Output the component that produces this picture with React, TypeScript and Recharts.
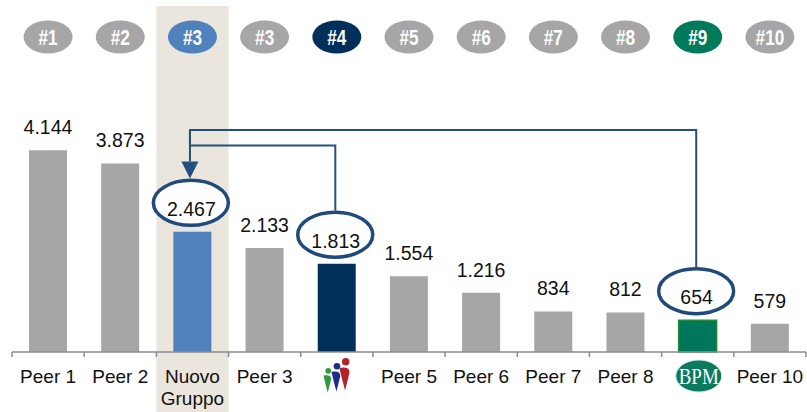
import React from 'react';
import { BarChart, Bar, XAxis, YAxis, ReferenceArea, ReferenceLine, LabelList, Cell } from 'recharts';

// ---- data ----
const categories = ['Peer 1', 'Peer 2', 'Nuovo Gruppo', 'Peer 3', 'Banco Popolare', 'Peer 5', 'Peer 6', 'Peer 7', 'Peer 8', 'BPM', 'Peer 10'];
const values = [4144, 3873, 2467, 2133, 1813, 1554, 1216, 834, 812, 654, 579];
const ranks = ['#1', '#2', '#3', '#3', '#4', '#5', '#6', '#7', '#8', '#9', '#10'];
const circled = ['Nuovo Gruppo', 'Banco Popolare', 'BPM'];
const shaded = 'Nuovo Gruppo';
const links = [
  { from: 'BPM', to: 'Nuovo Gruppo', arrow: true },
  { from: 'Banco Popolare', to: 'Nuovo Gruppo', arrow: false },
];

// ---- styles ----
const GRAY = '#a6a6a6';
const COLOR_BY_CAT: Record<string, string> = {
  'Nuovo Gruppo': '#4f81bd',
  'Banco Popolare': '#00305a',
  BPM: '#00765a',
};
const BADGE_COLOR_BY_CAT: Record<string, string> = {
  'Nuovo Gruppo': '#4f81bd',
  'Banco Popolare': '#00305a',
  BPM: '#007a5a',
};
const LINK_COLOR = '#24507f';
const ELLIPSE_COLOR = '#1f4a7a';
const SHADE = '#eae6dd';
const FONT = '"Liberation Sans", Arial, sans-serif';
const LINK_LEVELS = [130, 145.5];

const data = categories.map((name, i) => ({ name, value: values[i] }));

const fmt = (v: number) =>
  v >= 1000 ? `${Math.floor(v / 1000)}.${String(v % 1000).padStart(3, '0')}` : String(v);

// ellipse geometry relative to bar top
const ELL_DY = 29;
const ELL_RX = 37.5;
const ELL_RY = 22.5;
const ELL_SW = 3.5;
const ellipseOf = (cx: number, top: number) => ({
  cx: cx - 1.5,
  cy: top - ELL_DY,
  rx: ELL_RX,
  ry: ELL_RY,
  outerTop: top - ELL_DY - ELL_RY - ELL_SW / 2,
});

const ValueLabel = (props: any) => {
  const vb = props.viewBox && props.viewBox.width !== undefined ? props.viewBox : props;
  const x = Number(vb.x);
  const y = Number(vb.y);
  const w = Number(vb.width);
  const idx = props.index;
  const name = categories[idx];
  const cx = x + w / 2;
  const isCircled = circled.includes(name);
  const e = ellipseOf(cx, y);
  return (
    <g>
      {isCircled && (
        <ellipse cx={e.cx} cy={e.cy} rx={e.rx} ry={e.ry} fill="#ffffff" stroke={ELLIPSE_COLOR} strokeWidth={ELL_SW} />
      )}
      <text x={cx - (isCircled ? 1 : 0)} y={y - 16} textAnchor="middle" fontFamily={FONT} fontSize={19.5} fill="#111">
        {fmt(Number(props.value))}
      </text>
    </g>
  );
};

const makeLinkShape = (level: number, arrow: boolean) => (props: any) => {
  const { x1, y1, x2, y2 } = props;
  const target = ellipseOf(x1, y1);
  const source = ellipseOf(x2, y2);
  const tx = target.cx - 1;
  const tipY = target.outerTop;
  const baseY = tipY - 17;
  return (
    <g>
      <path
        d={`M${source.cx},${source.outerTop} V${level} H${tx} V${arrow ? baseY : LINK_LEVELS[0]}`}
        fill="none"
        stroke={LINK_COLOR}
        strokeWidth={2}
      />
      {arrow && (
        <polygon points={`${tx - 8.5},${baseY} ${tx + 8.5},${baseY} ${tx},${tipY}`} fill={LINK_COLOR} />
      )}
    </g>
  );
};

const ShadeShape = (props: any) => (
  <rect x={props.x} y={6} width={props.width} height={406} fill={SHADE} />
);

const BadgeTick = (props: any) => {
  const { x, payload } = props;
  const i = categories.indexOf(payload.value);
  const color = BADGE_COLOR_BY_CAT[payload.value] || GRAY;
  return (
    <g>
      <ellipse cx={x} cy={37} rx={24.5} ry={16.5} fill={color} />
      <text
        transform={`translate(${x},45) scale(0.78,1)`}
        x={0}
        y={0}
        textAnchor="middle"
        fontFamily={FONT}
        fontWeight="bold"
        fontSize={22}
        fill="#ffffff"
      >
        {ranks[i]}
      </text>
    </g>
  );
};

const Figure = ({ cx, top, color, s }: { cx: number; top: number; color: string; s: number }) => (
  <g>
    <circle cx={cx + 1.5 * s} cy={top + 3 * s} r={3 * s} fill={color} />
    <path
      d={`M${cx - 3.5 * s},${top + 8 * s} Q${cx + 5 * s},${top + 6.5 * s} ${cx + 4.5 * s},${top + 12 * s} L${cx + 1 * s},${top + 26 * s} Q${cx - 1.5 * s},${top + 17 * s} ${cx - 3.5 * s},${top + 8 * s} Z`}
      fill={color}
    />
  </g>
);

const CategoryTick = (props: any) => {
  const { x, y, payload, index } = props;
  const half = payload && payload.offset ? payload.offset : 36.1;
  const name = payload.value;
  const isLast = index === categories.length - 1;
  let label: React.ReactNode;
  if (name === 'Nuovo Gruppo') {
    label = (
      <text textAnchor="middle" fontFamily={FONT} fontSize={19} fill="#111">
        <tspan x={x} y={y + 31}>Nuovo</tspan>
        <tspan x={x} y={y + 53}>Gruppo</tspan>
      </text>
    );
  } else if (name === 'Banco Popolare') {
    label = (
      <g>
        <Figure cx={x - 10} top={y + 16} color="#2e9a3a" s={0.95} />
        <Figure cx={x - 1.5} top={y + 11} color="#1d2c8c" s={1.1} />
        <Figure cx={x + 7} top={y + 6} color="#b3212b" s={1.25} />
      </g>
    );
  } else if (name === 'BPM') {
    label = (
      <g>
        <ellipse cx={x + 1} cy={y + 24} rx={23} ry={16} fill="#0b7a5e" stroke="#d8ebe4" strokeWidth={1} />
        <text
          x={x + 1}
          y={y + 32}
          textAnchor="middle"
          fontFamily='"Liberation Serif", "DejaVu Serif", serif'
          fontSize={24}
          fill="#ffffff"
          textLength={40}
          lengthAdjust="spacingAndGlyphs"
        >
          BPM
        </text>
      </g>
    );
  } else {
    label = (
      <text x={x} y={y + 31} textAnchor="middle" fontFamily={FONT} fontSize={19} fill="#111">
        {name}
      </text>
    );
  }
  return (
    <g>
      <line x1={x - half} x2={x - half} y1={y} y2={y + 5} stroke="#8c8c8c" strokeWidth={1.5} />
      {isLast && <line x1={x + half} x2={x + half} y1={y} y2={y + 5} stroke="#8c8c8c" strokeWidth={1.5} />}
      {label}
    </g>
  );
};

const valueOf = (name: string) => values[categories.indexOf(name)];

export default function App() {
  return (
    <div style={{ position: 'absolute', left: 0, top: 0, width: 807, height: 412, background: '#ffffff' }}>
      <BarChart width={807} height={412} data={data} margin={{ top: 0, right: 1, bottom: 0, left: 12 }} barSize={38}>
        <ReferenceArea x1={shaded} x2={shaded} ifOverflow="visible" shape={ShadeShape} />
        <XAxis
          xAxisId="top"
          orientation="top"
          dataKey="name"
          height={108.5}
          axisLine={false}
          tickLine={false}
          interval={0}
          tick={<BadgeTick />}
        />
        <XAxis
          dataKey="name"
          height={60}
          interval={0}
          tickSize={0}
          tickMargin={0}
          tickLine={false}
          axisLine={{ stroke: '#8c8c8c', strokeWidth: 1.5 }}
          tick={<CategoryTick />}
        />
        <YAxis hide domain={[0, 5000]} />
        <Bar dataKey="value" isAnimationActive={false}>
          {data.map((d) => (
            <Cell
              key={d.name}
              fill={COLOR_BY_CAT[d.name] || GRAY}
              stroke={d.name === 'BPM' ? '#1f8a3c' : 'none'}
              strokeWidth={d.name === 'BPM' ? 1.5 : 0}
            />
          ))}
          <LabelList dataKey="value" content={<ValueLabel />} />
        </Bar>
        {links.map((l, i) => (
          <ReferenceLine
            key={l.from}
            segment={[
              { x: l.to, y: valueOf(l.to) },
              { x: l.from, y: valueOf(l.from) },
            ]}
            ifOverflow="visible"
            shape={makeLinkShape(LINK_LEVELS[i], l.arrow)}
          />
        ))}
      </BarChart>
    </div>
  );
}
